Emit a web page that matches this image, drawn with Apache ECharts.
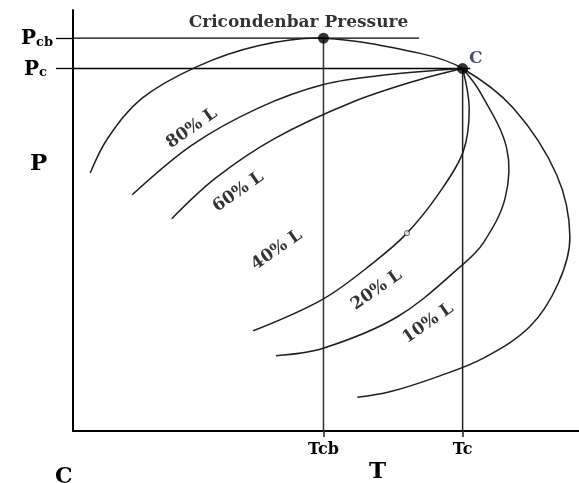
<!DOCTYPE html>
<html>
<head>
<meta charset="utf-8">
<script src="https://cdn.jsdelivr.net/npm/echarts@6/dist/echarts.min.js"></script>
<style>html,body{margin:0;padding:0;background:#fff;}#chart{width:579px;height:483px;}</style>
</head>
<body>
<div id="chart"></div>
<script>
// ---- data (schematic T/P units, 0..100) ----
const Tcb = 49.5, Tc = 77.0, Pcb = 93.3, Pc = 86.1;
const xTickValues = [Tcb, Tc];
const xTickLabels = ['Tcb', 'Tc'];
const yTickValues = [Pc, Pcb];
const yTickLabels = ['Pc', 'Pcb'];

const envelopeCurve = [[3.4,61.3],[6.9,69.6],[13.6,79.0],[24.4,86.5],[36.6,91.5],[49.5,93.3],[68.6,89.7],[77.0,86.1],[87.0,76.7],[95.6,60.8],[98.2,46.1],[95.9,35.1],[90.3,24.8],[81.1,17.3],[72.5,13.1],[62.6,9.3],[56.2,8.0]];
const curve80 = [[11.7,56.1],[23.5,67.9],[36.6,76.7],[49.5,82.3],[62.0,84.6],[77.0,86.1]];
const curve60 = [[19.5,50.4],[28.1,60.0],[39.9,69.5],[55.4,78.2],[68.6,83.5],[77.0,86.1]];
const curve40 = [[77.0,86.1],[78.3,76.7],[77.1,66.3],[72.1,56.1],[66.0,47.0],[60.0,40.6],[49.5,31.4],[35.6,23.8]];
const curve20 = [[77.0,86.1],[80.4,80.6],[85.7,67.2],[85.4,55.3],[81.1,44.7],[76.9,39.4],[64.2,27.2],[49.3,19.6],[40.1,17.9]];
const curveLabels = ['80% L', '60% L', '40% L', '20% L', '10% L'];
const curveLabelPos = [[23.5,71.9],[32.7,56.8],[40.3,43.0],[60.0,33.5],[70.2,25.6]];
const pcbLineEnd = 68.4, pcLineEnd = 78.5;
const openMarker = [[66.0,47.0]];
const pointNames = ['Cricondenbar Pressure', 'C'];

// ---- chart ----
const FONT = 'DejaVu Serif';
const TXT = '#000';
const chart = echarts.init(document.getElementById('chart'), null, {renderer: 'canvas'});

// smooth curve through the data points, positioned by the cartesian axes
function curve(name, data) {
  return {
    name: name, type: 'custom', coordinateSystem: 'cartesian2d', data: data,
    encode: {x: 0, y: 1}, silent: true, clip: false, z: 2,
    renderItem: function (params, api) {
      if (params.dataIndexInside !== 0) return null;
      const pts = [];
      for (let i = 0; i < params.dataInsideLength; i++) {
        pts.push(api.coord([api.value(0, i), api.value(1, i)]));
      }
      return {
        type: 'polyline',
        shape: {points: pts, smooth: 0.35},
        style: {stroke: '#1e1e1e', lineWidth: 1.5, fill: null}
      };
    }
  };
}
function straight(data, color, width) {
  return {
    type: 'line', data: data, symbol: 'none', clip: false, silent: true,
    lineStyle: {color: color, width: width}, z: 1
  };
}
function lookup(vals, labels, v) {
  for (let i = 0; i < vals.length; i++) if (Math.abs(vals[i] - v) < 1e-6) return labels[i];
  return '';
}

const option = {
  animation: false,
  backgroundColor: '#fff',
  grid: {left: 73, right: 0, top: 10, bottom: 52, containLabel: false},
  xAxis: {
    type: 'value', min: 0, max: 100,
    axisLine: {show: true, lineStyle: {color: '#000', width: 2}},
    axisTick: {show: true, customValues: xTickValues, length: 6, lineStyle: {color: '#222', width: 1.5}},
    axisLabel: {
      show: true, customValues: xTickValues, margin: 11,
      formatter: v => lookup(xTickValues, xTickLabels, v),
      fontFamily: FONT, fontWeight: 'bold', fontSize: 16, color: TXT
    },
    splitLine: {show: false}
  },
  yAxis: {
    type: 'value', min: 0, max: 100,
    axisLine: {show: true, lineStyle: {color: '#000', width: 2}},
    axisTick: {show: true, customValues: yTickValues, length: 17, lineStyle: {color: '#000', width: 1.3}},
    axisLabel: {
      show: true, customValues: yTickValues, margin: 20,
      formatter: v => {
        const s = lookup(yTickValues, yTickLabels, v);
        const sub = s.slice(1);
        return '{p|' + s.charAt(0) + '}{' + (sub.length === 1 ? 't' : 's') + '|' + sub + '}';
      },
      rich: {
        p: {fontFamily: FONT, fontWeight: 'bold', fontSize: 20, color: TXT, verticalAlign: 'bottom', lineHeight: 22},
        s: {fontFamily: FONT, fontWeight: 'bold', fontSize: 13, color: TXT, verticalAlign: 'bottom', lineHeight: 15},
        t: {fontFamily: FONT, fontWeight: 'bold', fontSize: 13, color: TXT, verticalAlign: 'bottom', lineHeight: 15, padding: [0, 6, 0, 0]}
      }
    },
    splitLine: {show: false}
  },
  graphic: [
    {type: 'text', left: 30, top: 153, style: {text: 'P', font: 'bold 23px "DejaVu Serif"', fill: TXT}},
    {type: 'text', left: 369, top: 461, style: {text: 'T', font: 'bold 23px "DejaVu Serif"', fill: TXT}},
    {type: 'text', left: 55, top: 466, style: {text: 'C', font: 'bold 22px "DejaVu Serif"', fill: TXT}}
  ],
  series: [
    straight([[0, Pcb], [pcbLineEnd, Pcb]], '#000', 1.3),
    straight([[0, Pc], [pcLineEnd, Pc]], '#000', 1.3),
    straight([[Tcb, Pcb], [Tcb, 0]], '#333', 1.5),
    straight([[Tc, Pc], [Tc, 0]], '#222', 1.5),
    curve('Envelope', envelopeCurve),
    curve('80% L', curve80),
    curve('60% L', curve60),
    curve('40% L', curve40),
    curve('20% L', curve20),
    {
      type: 'scatter', data: openMarker, symbol: 'circle', symbolSize: 5, silent: true, z: 3,
      itemStyle: {color: '#fff', borderColor: '#333', borderWidth: 1}
    },
    {
      type: 'scatter', silent: true, z: 5,
      data: [
        {value: [Tcb, Pcb], name: pointNames[0], label: {show: true, position: 'top', distance: 2, offset: [-25, 0], formatter: '{b}', fontFamily: FONT, fontWeight: 'bold', fontSize: 17, color: TXT}},
        {value: [Tc, Pc], name: pointNames[1], label: {show: true, position: 'right', distance: 1, offset: [0, -10], formatter: '{b}', fontFamily: FONT, fontWeight: 'bold', fontSize: 17, color: '#1a2450'}}
      ],
      symbol: 'circle', symbolSize: 11, itemStyle: {color: '#000'}
    },
    {
      type: 'scatter', silent: true, z: 6,
      data: curveLabelPos.map((p, i) => ({value: p, name: curveLabels[i]})),
      symbolSize: 1, itemStyle: {color: 'rgba(0,0,0,0)'},
      label: {show: true, position: 'inside', rotate: 35, formatter: '{b}', fontFamily: FONT, fontWeight: 'bold', fontSize: 17, color: TXT}
    }
  ]
};
chart.setOption(option);
</script>
</body>
</html>
